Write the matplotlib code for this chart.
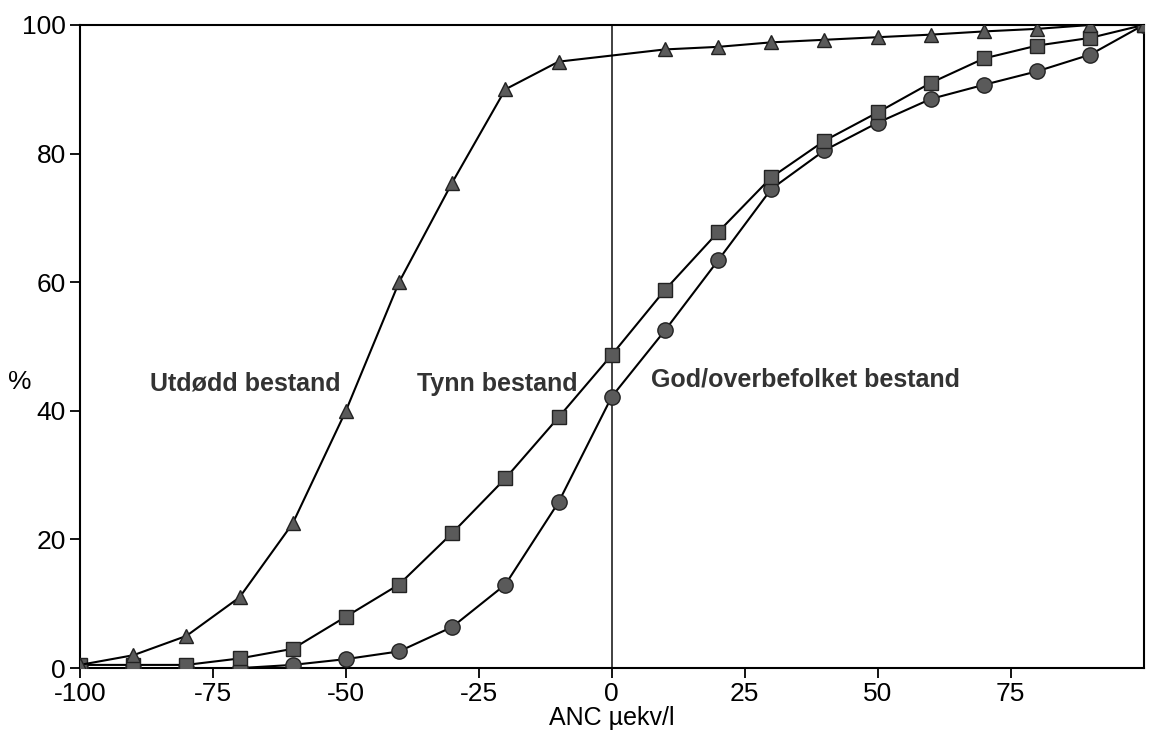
import matplotlib
matplotlib.use("Agg")
import matplotlib.pyplot as plt

plt.rcParams['font.family'] = ['Liberation Sans', 'DejaVu Sans']
plt.rcParams['axes.unicode_minus'] = False

# Data
x_utdodd = [-100, -90, -80, -70, -60, -50, -40, -30, -20, -10, 10, 20, 30, 40, 50, 60, 70, 80, 90, 100]
y_utdodd = [0.5, 2, 5, 11, 22.5, 40, 60, 75.5, 90, 94.3, 96.2, 96.6, 97.3, 97.7, 98.1, 98.5, 99.0, 99.4, 100, 100]

x_tynn = [-100, -90, -80, -70, -60, -50, -40, -30, -20, -10, 0, 10, 20, 30, 40, 50, 60, 70, 80, 90, 100]
y_tynn = [0.5, 0.5, 0.5, 1.5, 3, 8, 13, 21, 29.5, 39, 48.7, 58.8, 67.8, 76.3, 82, 86.4, 91, 94.8, 96.8, 98, 100]

x_god = [-100, -90, -80, -70, -60, -50, -40, -30, -20, -10, 0, 10, 20, 30, 40, 50, 60, 70, 80, 90, 100]
y_god = [0, 0, 0, 0, 0.5, 1.4, 2.6, 6.4, 13, 25.8, 42.2, 52.5, 63.4, 74.5, 80.5, 84.8, 88.5, 90.7, 92.8, 95.4, 100]

x_ticks = [-100, -75, -50, -25, 0, 25, 50, 75]
y_ticks = [0, 20, 40, 60, 80, 100]

labels = ["Utdødd bestand", "Tynn bestand", "God/overbefolket bestand"]

fig = plt.figure(figsize=(11.51, 7.35), dpi=100)
ax = fig.add_axes([0.0695, 0.091, 0.924, 0.875])

line_kw = dict(color='black', linewidth=1.5, markerfacecolor='#5a5a5a',
               markeredgecolor='#222222', markeredgewidth=1.0)
ax.plot(x_god, y_god, marker='o', markersize=11, zorder=3, **line_kw)
ax.plot(x_tynn, y_tynn, marker='s', markersize=10, zorder=3, **line_kw)
ax.plot(x_utdodd, y_utdodd, marker='^', markersize=10.5, zorder=3, **line_kw)

ax.axvline(0, color='#333333', linewidth=1.3, zorder=2)

ax.set_xlim(-100, 100)
ax.set_ylim(0, 100)
ax.set_xticks(x_ticks)
ax.set_yticks(y_ticks)
ax.tick_params(axis='both', direction='out', labelsize=19, length=7, width=1.3, pad=3)
for s in ax.spines.values():
    s.set_linewidth(1.5)

ax.set_xlabel("ANC µekv/l", fontsize=18, labelpad=0)
fig.text(20 / 1151, 1 - 382 / 735, "%", fontsize=19, ha='center', va='center')

ax.text(-69, 44.2, labels[0], fontsize=18, fontweight='bold', color='#333333', ha='center', va='center')
ax.text(-21.5, 44.2, labels[1], fontsize=18, fontweight='bold', color='#333333', ha='center', va='center')
ax.text(7.3, 44.8, labels[2], fontsize=18, fontweight='bold', color='#333333', ha='left', va='center')

fig.savefig("out.png", dpi=100)
